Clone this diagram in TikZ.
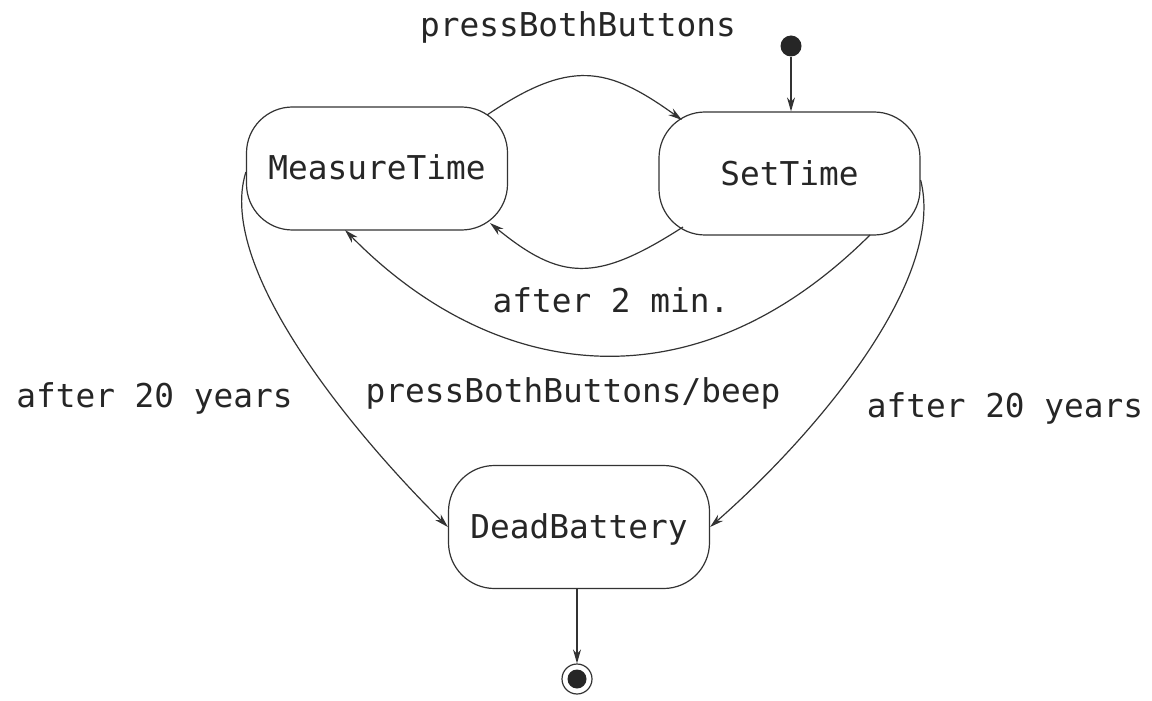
\documentclass[tikz,border=0pt]{standalone}
\usepackage{fontspec}
\setmonofont{DejaVu Sans Mono}
\usetikzlibrary{arrows.meta,calc}
\begin{document}
\begin{tikzpicture}[x=0.5pt,y=-0.5pt,
  line width=0.6pt,
  every node/.style={text=black!85, font=\ttfamily\fontsize{16.4}{19}\selectfont},
  state/.style={draw=black!80, rounded corners=23pt, minimum width=130.5pt,
    minimum height=61.5pt, inner sep=0pt, text height=11.5pt, text depth=0pt},
  trans/.style={draw=black!80, -{Stealth[length=7pt,width=4pt]}},
  lbl/.style={anchor=base, inner sep=0pt}]
\useasboundingbox (0,0) rectangle (1152,701);

% states
\node[state] (measure) at (377,168.5) {MeasureTime};
\node[state] (settime) at (789.5,173.5) {SetTime};
\node[state] (dead) at (579,527) {DeadBattery};

% pseudo states
\node[circle, fill=black!85, inner sep=0pt, minimum size=10.5pt] (init) at (791,46) {};
\node[circle, draw=black!80, inner sep=0pt, minimum size=15pt] (final) at (577,679) {};
\node[circle, fill=black!85, inner sep=0pt, minimum size=9.5pt] (finaldot) at (final) {};

% transitions
\draw[trans] (init) -- (init |- settime.north);
\draw[trans] ($(measure)+(110,-53.5)$) .. controls +(83,-56) and +(-75,-54) .. ($(settime)+(-107.5,-53.5)$);
\draw[trans] ($(settime)+(-106.5,53.5)$) .. controls +(-87,56) and +(71,58) .. ($(measure)+(113,54.5)$);
\draw[trans] ($(settime)+(80.5,61.5)$) .. controls +(-181,180) and +(144,147) .. ($(measure)+(-32,61.5)$);
\draw[trans] ($(measure.west)+(0,3.5)$) .. controls +(-31,98) and +(-88,-87) .. (dead.west);
\draw[trans] ($(settime.east)+(0,6.5)$) .. controls +(26,100) and +(105,-92) .. (dead.east);
\draw[trans] (dead.south -| final) -- (final);

% transition labels
\node[lbl] (lblPress) at (578,37) {pressBothButtons};
\node[lbl] (lblTwoMin) at (611,312) {after 2 min.};
\node[lbl] (lblBeep) at (573,402) {pressBothButtons/beep};
\node[lbl] (lblLeft) at (154.5,407) {after 20 years};
\node[lbl] (lblRight) at (1005,417) {after 20 years};
\end{tikzpicture}
\end{document}
